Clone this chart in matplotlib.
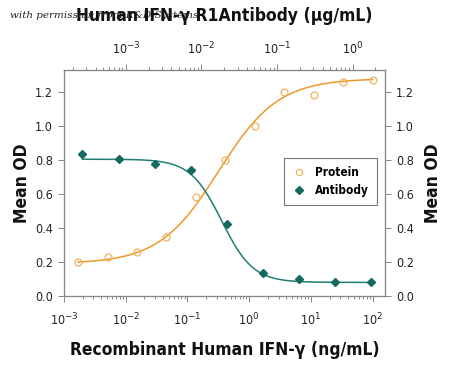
import numpy as np
import matplotlib
matplotlib.use("Agg")
import matplotlib.pyplot as plt
from matplotlib import font_manager as fm
from matplotlib.ticker import LogLocator, NullFormatter, FixedLocator

# ---- data ----
protein_conc = [100, 33.3, 11.1, 3.7, 1.23, 0.412, 0.137, 0.0457, 0.0152, 0.00508, 0.00169]  # ng/mL
protein_od = [1.27, 1.26, 1.18, 1.20, 1.00, 0.80, 0.58, 0.35, 0.26, 0.23, 0.20]
antibody_conc = [1.75, 0.583, 0.194, 0.0648, 0.0216, 0.0072, 0.0024, 0.0008, 0.000267]  # ug/mL
antibody_od = [0.083, 0.085, 0.099, 0.138, 0.426, 0.741, 0.775, 0.805, 0.834]
# 4-parameter logistic fit parameters (bottom, top, mid, hill)
protein_fit = (0.19, 1.28, 0.32, 0.9)
antibody_fit = (0.08, 0.805, 0.0185, 2.1)
yticks = [0.0, 0.2, 0.4, 0.6, 0.8, 1.0, 1.2]
bottom_ticks = [1e-3, 1e-2, 1e-1, 1e0, 1e1, 1e2]
top_ticks = [1e-3, 1e-2, 1e-1, 1e0]


def logistic(x, p):
    b, t, m, h = p
    return b + (t - b) / (1 + (m / x) ** h)


def logistic_dec(x, p):
    b, t, m, h = p
    return b + (t - b) / (1 + (x / m) ** h)


def find_font(bold):
    best = None
    for f in fm.fontManager.ttflist:
        name = f.name
        narrow = ('Narrow' in name or 'Condensed' in name or
                  str(f.stretch) in ('condensed', 'semi-condensed', '75', '87'))
        if not narrow or f.style != 'normal':
            continue
        w = f.weight if isinstance(f.weight, int) else (700 if 'bold' in str(f.weight) else 400)
        if (w >= 600) != bold:
            continue
        rank = 0 if 'Liberation' in name else (1 if 'DejaVu' in name else 2)
        if best is None or rank < best[0]:
            best = (rank, f.fname)
    return best[1] if best else None


bold_file = find_font(True)
reg_file = find_font(False)


def fp(size, bold=False):
    fn = bold_file if bold else reg_file
    if fn:
        return fm.FontProperties(fname=fn, size=size)
    return fm.FontProperties(family='DejaVu Sans', size=size,
                             weight='bold' if bold else 'normal', stretch='condensed')


W, H = 450, 365
fig = plt.figure(figsize=(4.5, 3.65), dpi=100)
ax = fig.add_axes([64 / W, (H - 296) / H, (385 - 64) / W, (296 - 70) / H])

orange = '#EE9A2A'
teal = '#1E7F74'
spine_c = '#888888'

ax.set_xscale('log')
ax.set_xlim(1e-3, 10 ** 2.2)
ax.set_ylim(0, 1.33)

xs = np.logspace(np.log10(min(protein_conc)), np.log10(max(protein_conc)), 300)
ax.plot(xs, logistic(xs, protein_fit), color=orange, lw=1.1, zorder=2)
ax.plot(protein_conc, protein_od, 'o', ms=5, mfc='none', mec='#F2B060', mew=0.9, zorder=3, label='Protein')

ax2 = ax.twiny()
ax2.set_xscale('log')
ax2.set_xlim(10 ** -3.818, 10 ** 0.427)
xa = np.logspace(np.log10(min(antibody_conc)), np.log10(max(antibody_conc)), 300)
ax2.plot(xa, logistic_dec(xa, antibody_fit), color=teal, lw=1.1, zorder=2)
ax2.plot(antibody_conc, antibody_od, 'D', ms=4.5, color='#16695E', zorder=3, label='Antibody')

axr = ax.twinx()
axr.set_ylim(0, 1.33)

for a in (ax, ax2, axr):
    for s in a.spines.values():
        s.set_color(spine_c)
        s.set_linewidth(0.8)
    a.tick_params(which='both', color=spine_c, width=0.7, labelcolor='#222222')
    a.tick_params(which='major', length=4)
    a.tick_params(which='minor', length=2)

tick_fp = fp(9)
ax.set_yticks(yticks)
ax.set_yticklabels([f'{v:.1f}' for v in yticks], fontproperties=tick_fp)
axr.set_yticks(yticks)
axr.set_yticklabels([f'{v:.1f}' for v in yticks], fontproperties=tick_fp)
ax.yaxis.set_minor_locator(FixedLocator([]))
axr.yaxis.set_minor_locator(FixedLocator([]))
ax.tick_params(axis='y', pad=4)
axr.tick_params(axis='y', pad=4)

ax.xaxis.set_major_locator(FixedLocator(bottom_ticks))
ax.set_xticklabels([f'10$^{{{int(np.log10(t))}}}$' for t in bottom_ticks], fontproperties=tick_fp)
ax.xaxis.set_minor_locator(LogLocator(base=10, subs=np.arange(2, 10)))
ax.xaxis.set_minor_formatter(NullFormatter())
ax.tick_params(axis='x', pad=7)

ax2.xaxis.set_major_locator(FixedLocator(top_ticks))
ax2.set_xticklabels([f'10$^{{{int(np.log10(t))}}}$' for t in top_ticks], fontproperties=tick_fp)
ax2.xaxis.set_minor_locator(LogLocator(base=10, subs=np.arange(2, 10)))
ax2.xaxis.set_minor_formatter(NullFormatter())
ax2.tick_params(axis='x', pad=5)

lbl_fp = fp(12.5, bold=True)
fig.text(22 / W, 1 - 183 / H, 'Mean OD', rotation=90, ha='center', va='center', fontproperties=lbl_fp, color='#111111')
fig.text(433 / W, 1 - 183 / H, 'Mean OD', rotation=90, ha='center', va='center', fontproperties=lbl_fp, color='#111111')
fig.text(225 / W, 1 - 350 / H, 'Recombinant Human IFN-γ (ng/mL)', ha='center', va='center',
         fontproperties=lbl_fp, color='#111111')
fig.text(224 / W, 1 - 16 / H, 'Human IFN-γ R1Antibody (μg/mL)', ha='center', va='center',
         fontproperties=lbl_fp, color='#111111')
fig.text(10 / W, 1 - 16 / H, 'with permission from R&D Systems', ha='left', va='center',
         fontsize=7.5, style='italic', family='DejaVu Serif', color='#222222')

h1, l1 = ax.get_legend_handles_labels()
h2, l2 = ax2.get_legend_handles_labels()
leg = axr.legend(h1 + h2, l1 + l2, loc='upper left',
                 bbox_to_anchor=((284 - 64) / (385 - 64), (296 - 158) / (296 - 70)),
                 borderaxespad=0, frameon=True, fancybox=False, edgecolor='#777777', framealpha=1,
                 prop=fp(8.5, bold=True), handletextpad=0.7, borderpad=0.7,
                 handlelength=1.2, labelspacing=0.4, markerscale=0.9)
leg.get_frame().set_linewidth(0.8)

fig.savefig('out.png', dpi=100)
